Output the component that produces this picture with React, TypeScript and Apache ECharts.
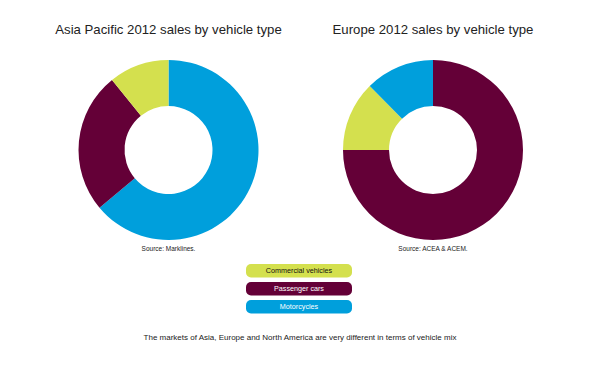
import React, { useEffect, useRef } from "react";
import * as echarts from "echarts";

const categories = ["Commercial vehicles", "Passenger cars", "Motorcycles"];
const categoryColors = ["#D4E04E", "#640037", "#009FDC"];
const categoryTextColors = ["#111111", "#ffffff", "#ffffff"];
const asiaValues = [10.8, 25.3, 63.9];
const europeValues = [12.6, 75.0, 12.4];
const titles = ["Asia Pacific 2012 sales by vehicle type", "Europe 2012 sales by vehicle type"];
const sources = ["Source: Marklines.", "Source: ACEA & ACEM."];
const footer = "The markets of Asia, Europe and North America are very different in terms of vehicle mix";

const FONT = "Liberation Sans, Arial, sans-serif";

function buildData(values: number[]) {
  return categories
    .map((name, i) => ({ name, value: values[i], itemStyle: { color: categoryColors[i] } }))
    .sort((a, b) => b.value - a.value);
}

export default function App() {
  const ref = useRef<HTMLDivElement>(null);
  useEffect(() => {
    document.body.style.margin = "0";
    if (!ref.current) return;
    const chart = echarts.init(ref.current, null, { renderer: "svg" });
    const centers = [[168.5, 150], [433, 150]];
    const valueSets = [asiaValues, europeValues];
    const legendItems = categories.map((name, i) => ({
      type: "rect",
      left: 246,
      top: 264 + i * 18,
      shape: { width: 106, height: 13.5, r: 5 },
      style: { fill: categoryColors[i] },
      textContent: {
        style: { text: name, fill: categoryTextColors[i], fontSize: 7.2, fontFamily: FONT },
      },
      textConfig: { position: "inside" },
    }));
    chart.setOption({
      animation: false,
      backgroundColor: "#ffffff",
      series: valueSets.map((vals, i) => ({
        type: "pie",
        center: centers[i],
        radius: [44, 90],
        startAngle: 90,
        clockwise: true,
        label: { show: false },
        labelLine: { show: false },
        emphasis: { disabled: true },
        itemStyle: { borderWidth: 0 },
        data: buildData(vals),
      })),
      graphic: [
        ...titles.map((t, i) => ({
          type: "text",
          x: centers[i][0],
          y: 29.5,
          style: {
            text: t,
            fill: "#222222",
            fontSize: 13.2,
            fontFamily: FONT,
            align: "center",
            verticalAlign: "middle",
          },
        })),
        ...sources.map((s, i) => ({
          type: "text",
          x: centers[i][0],
          y: 248,
          style: {
            text: s,
            fill: "#222222",
            fontSize: 6.5,
            fontFamily: FONT,
            align: "center",
            verticalAlign: "middle",
          },
        })),
        ...legendItems,
        {
          type: "text",
          x: 300,
          y: 337,
          style: {
            text: footer,
            fill: "#222222",
            fontSize: 8,
            fontFamily: FONT,
            align: "center",
            verticalAlign: "middle",
          },
        },
      ],
    });
    return () => chart.dispose();
  }, []);
  return <div ref={ref} style={{ width: 600, height: 390 }} />;
}
